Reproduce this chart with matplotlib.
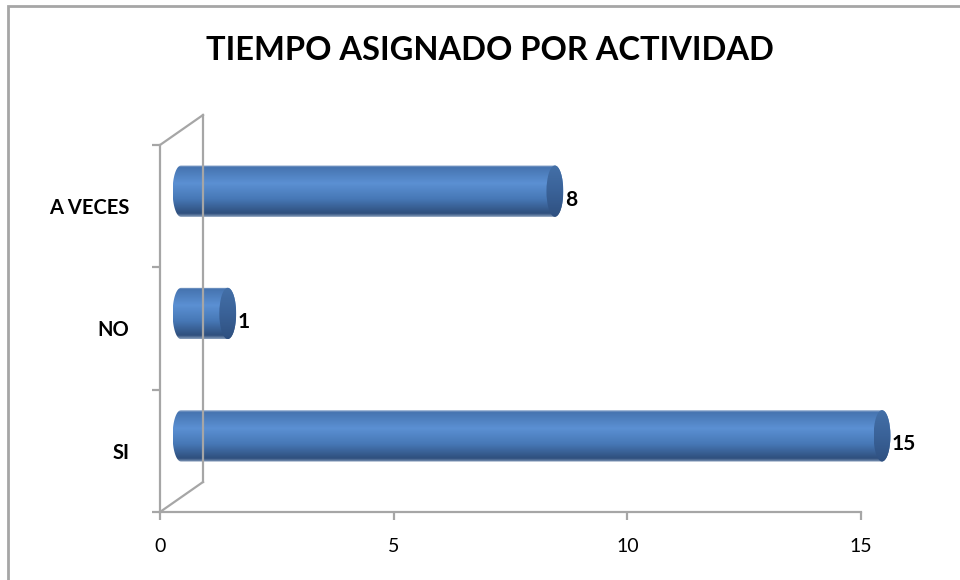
import numpy as np
import matplotlib
matplotlib.use("Agg")
import matplotlib.pyplot as plt
from matplotlib import transforms
from matplotlib.path import Path
from matplotlib.patches import PathPatch, Ellipse, Rectangle
from matplotlib.colors import LinearSegmentedColormap

categories = ["SI", "NO", "A VECES"]
values = [15, 1, 8]
x_ticks = [0, 5, 10, 15]
title = "TIEMPO ASIGNADO POR ACTIVIDAD"

FONT = "Lato"
GRAY = "#a6a6a6"

fig = plt.figure(figsize=(9.6, 5.8), dpi=100)
ax = fig.add_axes([160 / 960, 68 / 580, 701 / 960, 367 / 580])
ax.set_xlim(0, 15)
ax.set_ylim(0, 3)

# outer chart frame
fig.patches.append(Rectangle((8 / 960, -0.1), 1.2, 1.1 - 6 / 580, transform=fig.transFigure,
                             fill=False, edgecolor=GRAY, linewidth=2))

# 3d depth offsets (inches): back wall and bar plane
back = ax.transData + transforms.ScaledTranslation(0.43, 0.30, fig.dpi_scale_trans)
mid = ax.transData + transforms.ScaledTranslation(0.21, 0.15, fig.dpi_scale_trans)

for s in ["top", "right"]:
    ax.spines[s].set_visible(False)
for s in ["left", "bottom"]:
    ax.spines[s].set_color(GRAY)
    ax.spines[s].set_linewidth(1.6)

# side wall
ax.plot([0, 0], [0, 3], color=GRAY, lw=1.6, transform=back, clip_on=False)
p0 = ax.transData.transform([(0, 0), (0, 3)])
p1 = back.transform([(0, 0), (0, 3)])
for a, b in zip(p0, p1):
    ax.add_line(plt.Line2D([a[0], b[0]], [a[1], b[1]], color=GRAY, lw=1.6,
                           transform=None, clip_on=False))

ax.set_xticks(x_ticks)
ax.set_xticklabels([str(t) for t in x_ticks], fontsize=14, family=FONT)
ax.set_yticks([0, 1, 2, 3])
ax.set_yticklabels([])
ax.set_yticks([0.5, 1.5, 2.5], minor=True)
ax.set_yticklabels(categories, minor=True, fontsize=14.5, fontweight="bold", family=FONT)
ax.tick_params(axis="both", which="major", direction="out", length=6, width=1.6, color=GRAY)
ax.tick_params(axis="x", pad=13)
ax.tick_params(axis="y", which="minor", length=0, pad=22)

# cylinder shading from top to bottom
cyl = LinearSegmentedColormap.from_list("cyl", [
    (0.0, "#a9bcd6"), (0.04, "#4674b0"), (0.35, "#5b90d3"),
    (0.65, "#4778b6"), (0.93, "#2f4f7d"), (1.0, "#8aa0bd")])
cap = LinearSegmentedColormap.from_list("cap", ["#4470a8", "#3a6298", "#2f5080"])
grad = np.linspace(0, 1, 256).reshape(-1, 1)

h = 0.42      # bar thickness in category units
e = 0.18      # half width of the end ellipse in value units
t_left = np.linspace(np.pi / 2, 3 * np.pi / 2, 40)
t_right = np.linspace(-np.pi / 2, np.pi / 2, 40)

for i, v in enumerate(values):
    yc = i + 0.5
    y0, y1 = yc - h / 2, yc + h / 2
    xs = np.concatenate([e * np.cos(t_left), v + e * np.cos(t_right)])
    ys = np.concatenate([yc + h / 2 * np.sin(t_left), yc + h / 2 * np.sin(t_right)])
    clip = PathPatch(Path(np.column_stack([xs, ys])), transform=mid,
                     facecolor="none", edgecolor="none")
    ax.add_patch(clip)
    im = ax.imshow(grad, cmap=cyl, aspect="auto", extent=[-e, v + e, y0, y1],
                   transform=mid, origin="upper")
    im.set_clip_box(fig.bbox)
    im.set_clip_path(clip)

    # end cap
    ell = Ellipse((v, yc), 2 * e, h, transform=mid, facecolor="none", edgecolor="none")
    ax.add_patch(ell)
    im2 = ax.imshow(grad, cmap=cap, aspect="auto", extent=[v - e, v + e, y0, y1],
                    transform=mid, origin="upper")
    im2.set_clip_box(fig.bbox)
    im2.set_clip_path(ell)

    ax.annotate(str(v), xy=(v, yc), xycoords=mid, xytext=(e * 46.7 * 0.72 + 1, -6),
                textcoords="offset points", ha="left", va="center",
                fontsize=15, fontweight="bold", family=FONT, annotation_clip=False)

ax.set_xlim(0, 15)
ax.set_ylim(0, 3)

fig.text(0.51, 1 - 50 / 580, title, ha="center", va="center", fontsize=23.5,
         fontweight="bold", family=FONT)

fig.savefig("out.png", dpi=100)
